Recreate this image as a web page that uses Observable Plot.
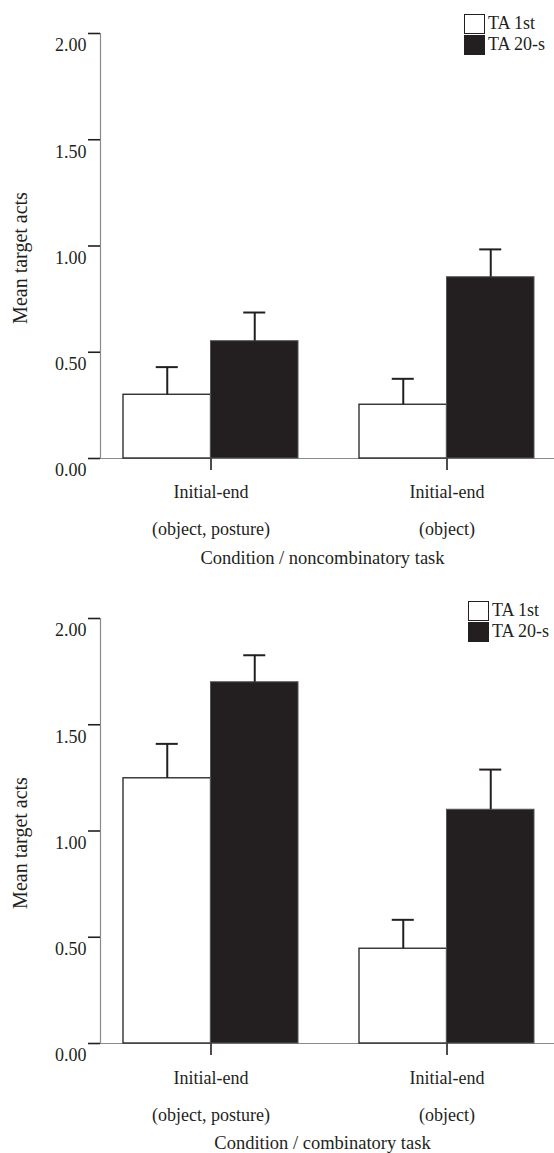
<!DOCTYPE html>
<html>
<head>
<meta charset="utf-8">
<script src="https://cdn.jsdelivr.net/npm/d3@7"></script>
<script src="https://cdn.jsdelivr.net/npm/@observablehq/plot@0.6"></script>
<style>
  html, body { margin: 0; padding: 0; background: #fff; overflow: hidden; }
  body { font-family: "Liberation Serif", "Times New Roman", serif; color: #231f20; }
  svg, svg text { font-family: "Liberation Serif", "Times New Roman", serif !important; }
  .panel { position: relative; width: 554px; }
  .legend { position: absolute; font-size: 18px; line-height: 21px; color: #231f20; }
  .legend .row { display: flex; align-items: center; height: 21px; }
  .legend .sw { width: 21px; height: 20px; box-sizing: border-box; border: 1.3px solid #231f20; margin-right: 3px; }
</style>
</head>
<body>
<div id="chart"></div>
<script>
// ---- data ----
const groupKeys = ["A", "B"];
const groupLine1 = ["Initial-end", "Initial-end"];
const groupLine2 = ["(object, posture)", "(object)"];
const seriesNames = ["TA 1st", "TA 20-s"];
const seriesFills = ["#ffffff", "#231f20"];
const yTicks = [0, 0.5, 1, 1.5, 2];
const yTitle = "Mean target acts";

// noncombinatory task
const nonTitle = "Condition / noncombinatory task";
const nonMean1st = [0.30, 0.253];
const nonErr1st  = [0.13, 0.122];
const nonMean20  = [0.552, 0.853];
const nonErr20   = [0.135, 0.131];

// combinatory task
const combTitle = "Condition / combinatory task";
const combMean1st = [1.248, 0.446];
const combErr1st  = [0.162, 0.136];
const combMean20  = [1.70, 1.10];
const combErr20   = [0.127, 0.189];

// ---- layout ----
const W = 554;
const ink = "#231f20";
const xScaleOpts = {type: "band", domain: groupKeys, range: [100, 554], paddingInner: 0.26, paddingOuter: 0.09, align: 0.53};
const bw = Plot.scale({x: xScaleOpts}).bandwidth;

function panel({title, m1, e1, m2, e2, height, marginBottom, legendLeft, legendTop, labelPad, lineHeight}) {
  const rows = groupKeys.map((g, i) => ({g, m1: m1[i], e1: e1[i], m2: m2[i], e2: e2[i]}));
  const capInset = bw / 2 - 11;
  const plot = Plot.plot({
    width: W,
    height,
    marginLeft: 100,
    marginRight: 0,
    marginTop: 33,
    marginBottom,
    style: {fontFamily: "'Liberation Serif', 'Times New Roman', serif", fontSize: "18px", color: ink, background: "#fff", overflow: "visible"},
    x: {...xScaleOpts, label: null},
    y: {domain: [0, 2], label: null},
    marks: [
      Plot.frame({anchor: "left", stroke: "#8a8a8a", strokeWidth: 1.2}),
      Plot.ruleY([0], {stroke: "#8a8a8a", strokeWidth: 1.2}),
      Plot.axisY({ticks: yTicks, tickSize: 12, tickFormat: () => "", stroke: ink, strokeWidth: 1.6, label: null}),
      Plot.axisY({ticks: yTicks, tickSize: 0, tickPadding: 14, dy: 12, tickFormat: d => d.toFixed(2), fill: ink, label: null}),
      Plot.axisX({tickSize: 12, tickFormat: () => "", stroke: ink, strokeWidth: 1.6, label: null}),
      Plot.axisX({tickSize: 0, tickPadding: labelPad, lineHeight, tickFormat: k => groupLine1[groupKeys.indexOf(k)] + "\n" + groupLine2[groupKeys.indexOf(k)], fill: ink, label: null}),
      Plot.barY(rows, {x: "g", y: "m1", fill: seriesFills[0], stroke: ink, strokeWidth: 1.3, insetRight: bw / 2}),
      Plot.barY(rows, {x: "g", y: "m2", fill: seriesFills[1], stroke: "#555", strokeWidth: 1, insetLeft: bw / 2}),
      Plot.ruleX(rows, {x: "g", y1: "m1", y2: d => d.m1 + d.e1, dx: -bw / 4, stroke: ink, strokeWidth: 2}),
      Plot.tickY(rows, {x: "g", y: d => d.m1 + d.e1, dx: -bw / 4, insetLeft: capInset, insetRight: capInset, stroke: ink, strokeWidth: 2}),
      Plot.ruleX(rows, {x: "g", y1: "m2", y2: d => d.m2 + d.e2, dx: bw / 4, stroke: ink, strokeWidth: 2}),
      Plot.tickY(rows, {x: "g", y: d => d.m2 + d.e2, dx: bw / 4, insetLeft: capInset, insetRight: capInset, stroke: ink, strokeWidth: 2}),
      Plot.text([title], {frameAnchor: "bottom", dy: 105, dx: -5, fontSize: 18.5, fill: ink}),
      Plot.text([yTitle], {frameAnchor: "left", textAnchor: "middle", rotate: -90, dx: -80, dy: 12, fontSize: 20, fill: ink})
    ]
  });
  const div = document.createElement("div");
  div.className = "panel";
  div.style.height = height + "px";
  div.appendChild(plot);
  const leg = document.createElement("div");
  leg.className = "legend";
  leg.style.left = legendLeft + "px";
  leg.style.top = legendTop + "px";
  seriesNames.forEach((name, i) => {
    const row = document.createElement("div");
    row.className = "row";
    const sw = document.createElement("div");
    sw.className = "sw";
    sw.style.background = seriesFills[i];
    const t = document.createElement("span");
    t.textContent = name;
    row.appendChild(sw);
    row.appendChild(t);
    leg.appendChild(row);
  });
  div.appendChild(leg);
  return div;
}

const root = document.getElementById("chart");
root.appendChild(panel({title: nonTitle, m1: nonMean1st, e1: nonErr1st, m2: nonMean20, e2: nonErr20,
  height: 585, marginBottom: 127, legendLeft: 464, legendTop: 13, labelPad: 13, lineHeight: 2.07}));
root.appendChild(panel({title: combTitle, m1: combMean1st, e1: combErr1st, m2: combMean20, e2: combErr20,
  height: 568, marginBottom: 110, legendLeft: 468, legendTop: 15, labelPad: 14, lineHeight: 2.05}));
</script>
</body>
</html>
